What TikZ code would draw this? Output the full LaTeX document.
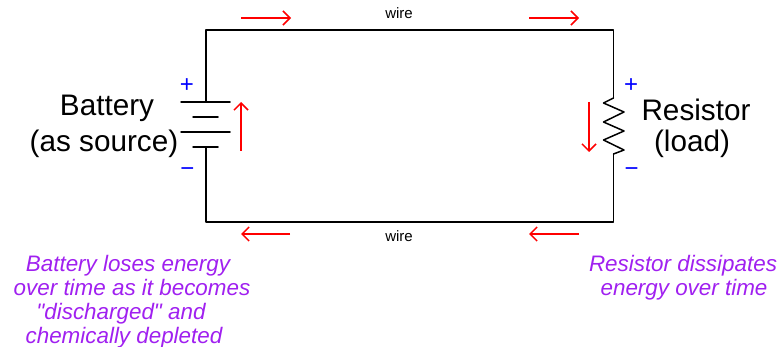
\documentclass[tikz,border=0pt]{standalone}
\usepackage{fontspec}
\setmainfont{Liberation Sans}[Ligatures=TeXOff]
\usetikzlibrary{arrows.meta}
\definecolor{flow}{RGB}{255,0,0}
\definecolor{pol}{RGB}{0,0,255}
\definecolor{note}{RGB}{160,32,240}
\tikzset{
  wireline/.style={draw=black,line width=1.5pt,line cap=round,line join=round},
  flowarrow/.style={draw=flow,line width=1.5pt,-{Straight Barb[length=7pt,width=14pt,line width=1.5pt]}},
  big/.style={font=\fontsize{29.7}{33}\selectfont,anchor=base,inner sep=0pt},
  small/.style={font=\fontsize{15}{18}\selectfont,anchor=base,inner sep=0pt},
  sign/.style={font=\fontsize{24}{26}\selectfont,text=pol,anchor=base,inner sep=0pt},
  notetext/.style={font=\fontsize{22.4}{25}\selectfont\itshape,text=note,anchor=base,inner sep=0pt}
}
\begin{document}
\begin{tikzpicture}[x=1pt,y=-1pt]
\useasboundingbox (0,0) rectangle (778,347);
% circuit corners and terminals
\coordinate (tl) at (206,30);
\coordinate (tr) at (613.5,30);
\coordinate (bl) at (206,222);
\coordinate (br) at (613.5,222);
\coordinate (batTop) at (206,102);
\coordinate (batBot) at (206,147);
\coordinate (resTop) at (613.5,98);
\coordinate (resBot) at (613.5,154);
% wires
\draw[wireline] (batTop) -- (tl) -- (tr) -- (resTop);
\draw[wireline] (resBot) -- (br) -- (bl) -- (batBot);
% battery plates
\draw[wireline] (181,102) -- (230,102);
\draw[wireline] (193,117) -- (218,117);
\draw[wireline] (181,132) -- (230,132);
\draw[wireline] (193,147) -- (218,147);
% resistor
\draw[wireline] (resTop) -- (603.5,103) -- (624,112) -- (603.5,122) -- (624,131) -- (603.5,140) -- (624,150) -- (resBot);
% flow arrows
\coordinate (a1s) at (241,18); \coordinate (a1e) at (291,18);
\coordinate (a2s) at (529,18); \coordinate (a2e) at (579,18);
\coordinate (a3s) at (290,234); \coordinate (a3e) at (241,234);
\coordinate (a4s) at (579,234); \coordinate (a4e) at (529,234);
\coordinate (a5s) at (241,151); \coordinate (a5e) at (241,102);
\coordinate (a6s) at (589,102); \coordinate (a6e) at (589,152);
\draw[flowarrow] (a1s) -- (a1e);
\draw[flowarrow] (a2s) -- (a2e);
\draw[flowarrow] (a3s) -- (a3e);
\draw[flowarrow] (a4s) -- (a4e);
\draw[flowarrow] (a5s) -- (a5e);
\draw[flowarrow] (a6s) -- (a6e);
% labels
\node[small] (w1) at (399,19) {wire};
\node[small] (w2) at (399,241) {wire};
\node[big] (b1) at (107,115.5) {Battery};
\node[big] (b2) at (104,151.5) {(as source)};
\node[big] (r1) at (696,120.5) {Resistor};
\node[big] (r2) at (692,151.5) {(load)};
\node[sign] (p1) at (187,93) {+};
\node[sign] (m1) at (187.5,177) {−};
\node[sign] (p2) at (631,93) {+};
\node[sign] (m2) at (631.5,177) {−};
% notes
\node[notetext] (n1) at (128,271.5) {Battery loses energy};
\node[notetext] (n2) at (132,295) {over time as it becomes};
\node[notetext] (n3) at (121,319) {"discharged" and};
\node[notetext] (n4) at (124,343) {chemically depleted};
\node[notetext] (n5) at (683,271.5) {Resistor dissipates};
\node[notetext] (n6) at (684,295.5) {energy over time};
\end{tikzpicture}
\end{document}
